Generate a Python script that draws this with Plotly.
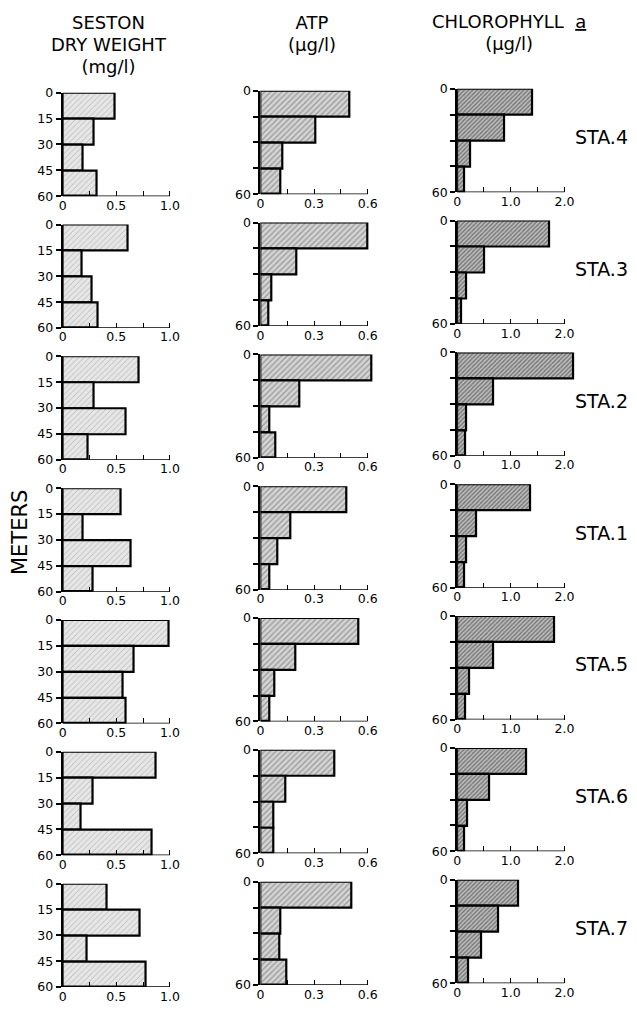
import plotly.graph_objects as go

# ---------------- data ----------------
depth_top = [0, 15, 30, 45]          # top of each 15-m sampling layer (m)
layer = 15
stations = ["STA.4", "STA.3", "STA.2", "STA.1", "STA.5", "STA.6", "STA.7"]

seston = [  # mg/l
    [0.48, 0.29, 0.19, 0.32],
    [0.61, 0.18, 0.27, 0.33],
    [0.71, 0.29, 0.59, 0.23],
    [0.54, 0.19, 0.63, 0.28],
    [0.99, 0.66, 0.56, 0.59],
    [0.87, 0.28, 0.17, 0.83],
    [0.41, 0.72, 0.22, 0.77],
]
atp = [  # ug/l
    [0.50, 0.31, 0.125, 0.113],
    [0.60, 0.20, 0.064, 0.047],
    [0.62, 0.216, 0.049, 0.084],
    [0.48, 0.17, 0.095, 0.051],
    [0.55, 0.194, 0.079, 0.051],
    [0.413, 0.138, 0.071, 0.071],
    [0.51, 0.113, 0.108, 0.147],
]
chl = [  # ug/l
    [1.40, 0.88, 0.24, 0.13],
    [1.71, 0.50, 0.16, 0.08],
    [2.17, 0.68, 0.17, 0.15],
    [1.36, 0.36, 0.17, 0.13],
    [1.81, 0.68, 0.23, 0.14],
    [1.29, 0.60, 0.19, 0.13],
    [1.13, 0.77, 0.45, 0.21],
]

x_tickvals = [[0, 0.25, 0.5, 0.75, 1.0], [0, 0.15, 0.3, 0.45, 0.6], [0, 0.5, 1.0, 1.5, 2.0]]
x_ticktext = [["0", "", "0.5", "", "1.0"], ["0", "", "0.3", "", "0.6"], ["0", "", "1.0", "", "2.0"]]
y_tickvals = [0, 15, 30, 45, 60]
y_ticktext = [["0", "15", "30", "45", "60"], ["0", "", "", "", "60"], ["0", "", "", "", "60"]]
col_titles = [
    ["SESTON", "DRY WEIGHT", "(mg/l)"],
    ["ATP", "(\u03bcg/l)"],
    ["CHLOROPHYLL\u00a0 <u>a</u>", "(\u03bcg/l)"],
]

columns = [seston, atp, chl]

# ---------------- layout geometry (pixels) ----------------
W, H = 637, 1013
X_LEFT = [59, 258, 456]
PX_FULL = 108          # pixels for the full-scale tick
OVER = 1.12            # extra room to right for bars beyond scale
TOP0, ROW_STEP, PANEL_H = 86, 133.8, 105
COL_OFF = [0, -2, -4]
FILLS = [
    dict(bg="#e6e6e6", fg="#8a8a8a", size=4, sol=0.22),
    dict(bg="#d4d4d4", fg="#5e5e5e", size=4, sol=0.32),
    dict(bg="#bdbdbd", fg="#2e2e2e", size=3, sol=0.45),
]
FONT = "DejaVu Sans, Liberation Sans, sans-serif"
TITLE_X = [106, 310, 508]
TITLE_TOP = [3, 3, 2]
TITLE_PX = 18           # glyph size of the column titles
TITLE_BASE = 17         # base size -> line spacing 1.3 * 17


def fx(px):
    return px / W


def fy(py):
    return 1 - py / H


fig = go.Figure()
layout = dict(
    width=W, height=H, margin=dict(l=0, r=0, t=0, b=0),
    paper_bgcolor="white", plot_bgcolor="white", showlegend=False,
    font=dict(family=FONT, color="black", size=12), bargap=0,
)
shapes = []
annotations = []

n = 0
for r, sta in enumerate(stations):
    for c, data in enumerate(columns):
        n += 1
        xa = "x" if n == 1 else f"x{n}"
        ya = "y" if n == 1 else f"y{n}"
        full = x_tickvals[c][-1]
        vals = data[r]
        fill = FILLS[c]
        fig.add_trace(go.Bar(
            x=vals, y=[d + layer / 2 for d in depth_top], width=layer,
            orientation="h", xaxis=xa, yaxis=ya,
            marker=dict(
                color=fill["bg"],
                line=dict(color="black", width=2.2),
                pattern=dict(shape="/", fgcolor=fill["fg"], bgcolor=fill["bg"],
                             size=fill["size"], solidity=fill["sol"]),
            ),
            hoverinfo="skip",
        ))
        top = TOP0 + ROW_STEP * r + COL_OFF[c]
        x0 = X_LEFT[c]
        layout["xaxis" if n == 1 else f"xaxis{n}"] = dict(
            domain=[fx(x0), fx(x0 + PX_FULL * OVER)], anchor=ya,
            range=[0, full * OVER], showgrid=False, zeroline=False, showline=False,
            tickvals=x_tickvals[c], ticktext=x_ticktext[c], ticks="inside",
            ticklen=5, tickwidth=1.3, tickcolor="black",
            tickfont=dict(size=12.5, family=FONT),
        )
        layout["yaxis" if n == 1 else f"yaxis{n}"] = dict(
            domain=[fy(top + PANEL_H), fy(top)], anchor=xa,
            range=[60, 0], showgrid=False, zeroline=False, showline=True,
            linecolor="black", linewidth=2,
            tickvals=y_tickvals, ticktext=y_ticktext[c], ticks="outside",
            ticklen=5, tickwidth=1.5, tickcolor="black",
            tickfont=dict(size=12.5, family=FONT),
        )
        shapes.append(dict(type="line", xref=xa, yref=ya, x0=0, x1=full, y0=60, y1=60,
                           line=dict(color="black", width=1.5)))
    # station label
    annotations.append(dict(
        text=sta, xref="paper", yref="paper", x=fx(601), y=fy(TOP0 + ROW_STEP * r + 45),
        showarrow=False, font=dict(size=19, family=FONT), xanchor="center", yanchor="middle",
    ))

for c, lines in enumerate(col_titles):
    text = "<br>".join(f'<span style="font-size:{TITLE_PX}px">{t}</span>' for t in lines)
    annotations.append(dict(
        text=text, xref="paper", yref="paper", x=fx(TITLE_X[c]), y=fy(TITLE_TOP[c]),
        showarrow=False, font=dict(size=TITLE_BASE, family=FONT), xanchor="center",
        yanchor="top", align="center", borderpad=0,
    ))

annotations.append(dict(
    text="METERS", xref="paper", yref="paper", x=fx(16), y=fy(532), textangle=-90,
    showarrow=False, font=dict(size=21, family=FONT), xanchor="center", yanchor="middle",
))

layout["shapes"] = shapes
layout["annotations"] = annotations
fig.update_layout(**layout)
fig.write_html(
    "out.html",
    config={"displayModeBar": False},
    post_script="document.body.style.margin='0px';document.body.style.overflow='hidden';",
)
